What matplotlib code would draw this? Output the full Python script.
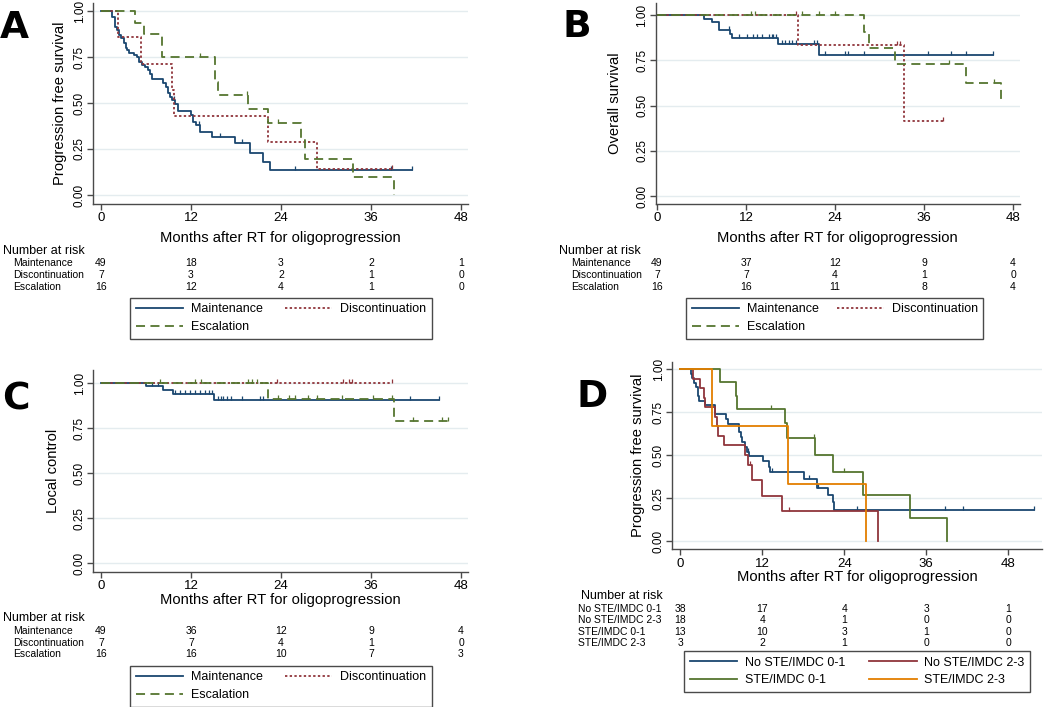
import numpy as np
import matplotlib.pyplot as plt
import matplotlib.transforms as mtransforms
from matplotlib.lines import Line2D

plt.rcParams['font.family'] = ['Liberation Sans', 'DejaVu Sans']

# ---- data ----
xticks = [0, 12, 24, 36, 48]
yticks = [0, 0.25, 0.5, 0.75, 1.0]
ytick_labels = ['0.00', '0.25', '0.50', '0.75', '1.00']
months_label = 'Months after RT for oligoprogression'
groups_abc = ['Maintenance', 'Discontinuation', 'Escalation']
groups_d = ['No STE/IMDC 0-1', 'No STE/IMDC 2-3', 'STE/IMDC 0-1', 'STE/IMDC 2-3']

# A: progression free survival
a_maint_t = [0, 1.5, 1.8, 2.1, 2.4, 2.7, 3.0, 3.3, 3.5, 3.7, 4.4, 4.8, 5.1, 5.4, 5.8, 6.2, 6.5, 6.8,
             8.3, 8.6, 8.9, 9.2, 9.5, 9.8, 10.2, 12.0, 12.2, 12.7, 13.2, 14.8, 17.8, 19.9, 21.6, 22.5, 41.4]
a_maint_s = [1.0, 0.969, 0.915, 0.897, 0.870, 0.851, 0.824, 0.801, 0.788, 0.774, 0.761, 0.748, 0.725,
             0.707, 0.694, 0.679, 0.656, 0.630, 0.607, 0.589, 0.553, 0.534, 0.516, 0.493, 0.457, 0.435,
             0.399, 0.380, 0.344, 0.317, 0.281, 0.227, 0.181, 0.136, 0.136]
a_maint_c = [9.7, 13.1, 15.9, 18.8, 25.9, 38.7, 41.4]
a_disc_t = [0, 2.3, 5.3, 9.4, 9.7, 22.3, 28.8, 38.8]
a_disc_s = [1.0, 0.857, 0.714, 0.571, 0.429, 0.286, 0.143, 0.143]
a_disc_c = [38.8]
a_esc_t = [0, 4.5, 5.7, 8.1, 15.2, 15.6, 19.6, 22.3, 26.7, 27.2, 33.6, 39.1]
a_esc_s = [1.0, 0.9375, 0.875, 0.75, 0.614, 0.546, 0.467, 0.391, 0.297, 0.196, 0.098, 0.0]
a_esc_c = [13.2, 19.5, 23.6]
a_risk = [[49, 18, 3, 2, 1], [7, 3, 2, 1, 0], [16, 12, 4, 1, 0]]

# B: overall survival
b_maint_t = [0, 6.3, 7.4, 8.3, 9.9, 10.1, 16.3, 21.8, 45.3]
b_maint_s = [1.0, 0.980, 0.959, 0.918, 0.895, 0.872, 0.838, 0.779, 0.779]
b_maint_c = [9.7, 11.0, 12.1, 13.0, 13.5, 14.2, 15.1, 15.5, 15.7, 16.0, 16.9, 17.3, 17.8, 18.2, 18.7,
             21.1, 21.6, 22.7, 25.4, 25.8, 27.9, 36.6, 39.6, 41.6, 45.3]
b_disc_t = [0, 19.0, 33.3, 38.6]
b_disc_s = [1.0, 0.833, 0.417, 0.417]
b_disc_c = [18.8, 32.4, 32.8, 38.6]
b_esc_t = [0, 27.9, 28.6, 32.1, 41.6, 46.4]
b_esc_s = [1.0, 0.909, 0.818, 0.727, 0.623, 0.519]
b_esc_c = [12.7, 13.2, 19.6, 21.8, 24.0, 39.3, 45.4]
b_risk = [[49, 37, 12, 9, 4], [7, 7, 4, 1, 0], [16, 16, 11, 8, 4]]

# C: local control
c_maint_t = [0, 6.0, 8.2, 9.6, 15.1, 45.0]
c_maint_s = [1.0, 0.981, 0.959, 0.937, 0.903, 0.903]
c_maint_c = [6.8, 7.6, 9.9, 10.5, 11.2, 11.9, 12.5, 13.2, 13.9, 14.4, 14.8, 15.6, 16.0, 16.3, 16.8,
             17.3, 18.8, 21.2, 21.6, 41.2, 45.0]
c_disc_t = [0, 38.8]
c_disc_s = [1.0, 1.0]
c_disc_c = [23.4, 32.3, 33.1, 33.4, 38.8]
c_esc_t = [0, 22.3, 39.1, 46.3]
c_esc_s = [1.0, 0.911, 0.79, 0.79]
c_esc_c = [7.9, 12.5, 13.3, 19.6, 20.1, 20.8, 23.6, 25.0, 25.9, 27.6, 28.8, 32.1, 36.3, 38.8,
           41.6, 45.4, 46.3]
c_risk = [[49, 36, 12, 9, 4], [7, 7, 4, 1, 0], [16, 16, 10, 7, 3]]

# D: progression free survival by STE / IMDC
d_no01_t = [0, 1.6, 1.7, 2.05, 2.35, 2.55, 2.8, 3.6, 5.1, 6.7, 7.0, 8.65, 8.9, 9.1, 9.4, 9.7, 10.0,
            12.1, 12.95, 13.2, 18.1, 20.0, 21.65, 22.3, 22.5, 51.7]
d_no01_s = [1.0, 0.974, 0.947, 0.921, 0.895, 0.842, 0.816, 0.789, 0.740, 0.711, 0.682, 0.634, 0.605,
            0.576, 0.547, 0.517, 0.492, 0.463, 0.430, 0.401, 0.358, 0.308, 0.269, 0.227, 0.178, 0.178]
d_no01_c = [9.85, 13.4, 18.8, 20.1, 25.9, 38.7, 41.4, 51.7]
d_no23_t = [0, 1.9, 2.9, 3.4, 3.6, 5.1, 5.3, 5.5, 6.4, 9.4, 9.85, 10.5, 12.0, 14.9, 28.9]
d_no23_s = [1.0, 0.944, 0.889, 0.833, 0.778, 0.722, 0.667, 0.611, 0.556, 0.5, 0.444, 0.353, 0.264,
            0.176, 0.0]
d_no23_c = [10.2, 15.9]
d_s01_t = [0, 5.8, 8.2, 8.3, 15.3, 15.6, 19.7, 22.4, 26.7, 33.6, 39.0]
d_s01_s = [1.0, 0.923, 0.846, 0.769, 0.684, 0.598, 0.498, 0.399, 0.266, 0.133, 0.0]
d_s01_c = [13.3, 19.6, 24.0]
d_s23_t = [0, 4.6, 15.8, 27.2]
d_s23_s = [1.0, 0.667, 0.333, 0.0]
d_s23_c = []
d_risk = [[38, 17, 4, 3, 1], [18, 4, 1, 0, 0], [13, 10, 3, 1, 0], [3, 2, 1, 0, 0]]

NAVY, MAROON, FOREST, ORANGE = '#1a476f', '#90353b', '#55752f', '#e37e00'
GRID = '#e4ecef'
AXC = '#4a4a4a'
DOT = (0, (1.3, 1.3))
DASH = (0, (5, 3))

W, H = 1050, 707
fig = plt.figure(figsize=(W / 100, H / 100), dpi=100)


def fx(x):
    return x / W


def fy(y):
    return 1 - y / H


def panel(box, xlim, ylim, curves, ylabel, ylab_x, xlab_y):
    l, t, r, b = box
    ax = fig.add_axes([fx(l), fy(b), fx(r - l), (b - t) / H])
    for ts, ss, cs, color, ls in curves:
        ax.step(ts, ss, where='post', color=color, ls=ls, lw=1.3)
        if cs:
            idx = np.searchsorted(ts, cs, side='right') - 1
            ax.plot(cs, np.asarray(ss)[idx], ls='none', marker=[(0, 0), (0, 1)], ms=6,
                    mec=color, mew=0.9)
    ax.set_xlim(xlim)
    ax.set_ylim(ylim)
    ax.set_xticks(xticks)
    ax.set_yticks(yticks)
    ax.set_yticklabels(ytick_labels, rotation=90, va='center')
    for sp in ['top', 'right']:
        ax.spines[sp].set_visible(False)
    for sp in ['left', 'bottom']:
        ax.spines[sp].set_color(AXC)
        ax.spines[sp].set_linewidth(1.0)
    ax.grid(axis='y', color=GRID, lw=1)
    ax.set_axisbelow(True)
    ax.tick_params(axis='x', direction='out', length=4, width=1, color=AXC, labelsize=9.5, pad=2)
    ax.tick_params(axis='y', direction='out', length=4.5, width=1, color=AXC, labelsize=8.5, pad=1)
    ax.set_xlabel(months_label, fontsize=10.6, va='center')
    ax.xaxis.set_label_coords(0.5, (b - xlab_y) / (b - t))
    ax.set_ylabel(ylabel, fontsize=10.6, va='center', ha='center')
    ax.yaxis.set_label_coords((ylab_x - l) / (r - l), 0.5)
    return ax


def risk_table(ax, title_x, row_x, ys, labels, counts):
    tr = mtransforms.blended_transform_factory(ax.transData, fig.transFigure)
    fig.text(fx(title_x), fy(ys[0]), 'Number at risk', fontsize=9, va='center')
    for y, lab, vals in zip(ys[1:], labels, counts):
        fig.text(fx(row_x), fy(y), lab, fontsize=7.5, va='center')
        for xt, v in zip(xticks, vals):
            ax.text(xt, fy(y), str(v), transform=tr, ha='center', va='center', fontsize=7.5)


def legend(handles, labels, x0, x1, top):
    leg = fig.legend(handles, labels, loc='upper left',
                     bbox_to_anchor=(fx(x0), fy(top), fx(x1 - x0), 0), mode='expand', ncol=2,
                     fontsize=9, frameon=True, fancybox=False, edgecolor=AXC, framealpha=1,
                     handlelength=3.8, handletextpad=0.6, labelspacing=0.45, borderpad=0.45,
                     borderaxespad=0, columnspacing=1.0)
    leg.get_frame().set_linewidth(1.0)


abc_styles = [(NAVY, '-'), (MAROON, DOT), (FOREST, DASH)]
abc_handles = [Line2D([], [], color=c, ls=s, lw=1.3) for c, s in abc_styles]
# column-wise filling: Maintenance, Escalation | Discontinuation
abc_order = [0, 2, 1]

# ---- A ----
axA = panel((93.3, 3.3, 468.3, 204), (-1.03, 48.97), (-0.049, 1.042),
            [(a_maint_t, a_maint_s, a_maint_c, NAVY, '-'),
             (a_disc_t, a_disc_s, a_disc_c, MAROON, DOT),
             (a_esc_t, a_esc_s, a_esc_c, FOREST, DASH)],
            'Progression free survival', 60, 238)
risk_table(axA, 2.7, 13.3, [250.7, 263.3, 275, 286.7], groups_abc, a_risk)
legend([abc_handles[i] for i in abc_order], [groups_abc[i] for i in abc_order], 130, 431.7, 297.7)

# ---- B ----
axB = panel((655.7, 3.3, 1020, 204), (-0.18, 48.94), (-0.044, 1.065),
            [(b_maint_t, b_maint_s, b_maint_c, NAVY, '-'),
             (b_disc_t, b_disc_s, b_disc_c, MAROON, DOT),
             (b_esc_t, b_esc_s, b_esc_c, FOREST, DASH)],
            'Overall survival', 615, 238)
risk_table(axB, 559.3, 570.7, [250.7, 263.3, 275, 286.7], groups_abc, b_risk)
legend([abc_handles[i] for i in abc_order], [groups_abc[i] for i in abc_order], 686, 983.3, 297.7)

# ---- C ----
axC = panel((93.3, 370, 468.3, 571.7), (-1.03, 48.97), (-0.0466, 1.072),
            [(c_maint_t, c_maint_s, c_maint_c, NAVY, '-'),
             (c_disc_t, c_disc_s, c_disc_c, MAROON, DOT),
             (c_esc_t, c_esc_s, c_esc_c, FOREST, DASH)],
            'Local control', 53.3, 600)
risk_table(axC, 2.7, 13.3, [618.3, 631, 642.7, 654.3], groups_abc, c_risk)
legend([abc_handles[i] for i in abc_order], [groups_abc[i] for i in abc_order], 130, 431.7, 665.7)

# ---- D ----
d_colors = [NAVY, MAROON, FOREST, ORANGE]
axD = panel((672.3, 362, 1041.7, 549.3), (-1.17, 52.89), (-0.048, 1.041),
            [(d_no01_t, d_no01_s, d_no01_c, NAVY, '-'),
             (d_no23_t, d_no23_s, d_no23_c, MAROON, '-'),
             (d_s01_t, d_s01_s, d_s01_c, FOREST, '-'),
             (d_s23_t, d_s23_s, d_s23_c, ORANGE, '-')],
            'Progression free survival', 638.3, 576.7)
risk_table(axD, 581, 578.3, [595.7, 609, 620, 631.7, 643.3], groups_d, d_risk)
d_handles = [Line2D([], [], color=c, lw=1.3) for c in d_colors]
d_order = [0, 2, 1, 3]
legend([d_handles[i] for i in d_order], [groups_d[i] for i in d_order], 684, 1030, 651)

# panel letters
for letter, x, y in [('A', 0, 38), ('B', 563, 37), ('C', 2, 410), ('D', 577, 407)]:
    fig.text(fx(x), fy(y), letter, fontsize=27, fontweight='bold', family='DejaVu Sans',
             va='baseline', ha='left')

fig.savefig('out.png', dpi=100)
